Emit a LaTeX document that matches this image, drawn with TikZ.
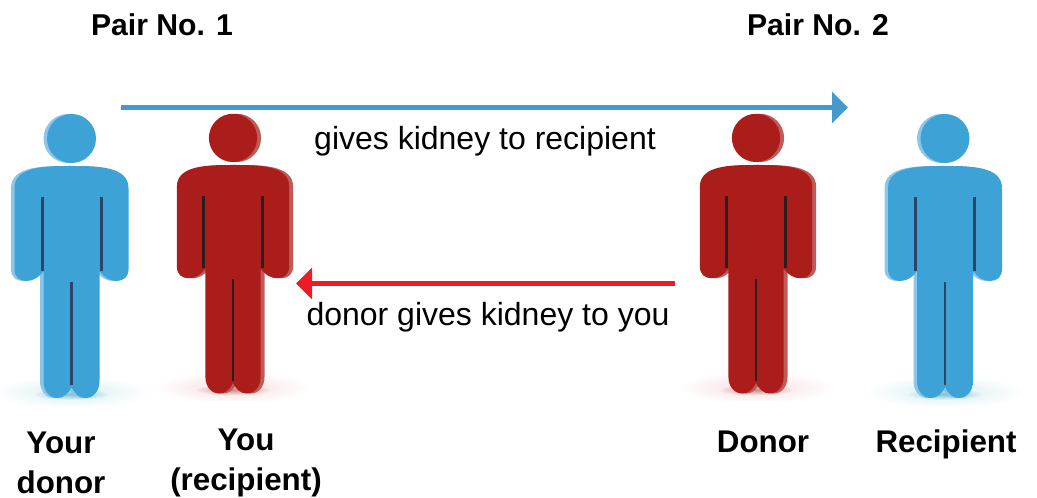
\documentclass[tikz,border=0pt]{standalone}
\usepackage{xcolor}
\usepackage{fontspec}
\setmainfont{Liberation Sans}
\usepackage{tikz}
\usetikzlibrary{arrows.meta,positioning}

\definecolor{donorblue}{HTML}{3DA2D5}
\definecolor{donorshade}{HTML}{8CC6EA}
\definecolor{donorslit}{HTML}{2B4468}
\definecolor{donorglow}{HTML}{D8EEF4}
\definecolor{donorfloor}{HTML}{7FBFD2}
\definecolor{patientred}{HTML}{AB1D1B}
\definecolor{patientshade}{HTML}{BE5A58}
\definecolor{patientslit}{HTML}{2E1B1C}
\definecolor{patientglow}{HTML}{F7DDDD}
\definecolor{patientfloor}{HTML}{C98A8A}
\definecolor{arrowblue}{HTML}{4499CF}
\definecolor{arrowred}{HTML}{ED1C24}

% outline of a standing figure, body top at y=0
\newcommand{\figureoutline}{
    (0,0) .. controls (25,0) and (57,0) .. (57,22) -- (57,103)
    .. controls (57,111) and (52,115) .. (45,115) .. controls (38,115) and (32,111) .. (28,105)
    -- (28,215) .. controls (28,225) and (22,232) .. (14,232) .. controls (8,232) and (3,228) .. (0,221)
    .. controls (-3,228) and (-8,232) .. (-14,232) .. controls (-22,232) and (-28,225) .. (-28,215)
    -- (-28,105) .. controls (-32,111) and (-38,115) .. (-45,115) .. controls (-52,115) and (-57,111) .. (-57,103)
    -- (-57,22) .. controls (-57,0) and (-25,0) .. (0,0) -- cycle
}

\begin{document}
\begin{tikzpicture}[
    x=0.75pt, y=-0.75pt,
    pairlabel/.style={font=\fontsize{22.6}{30}\selectfont\bfseries, inner sep=0pt, align=center},
    arrowlabel/.style={font=\fontsize{24}{30}\selectfont, inner sep=0pt},
    person/.style={font=\fontsize{23.5}{30}\selectfont\bfseries, inner sep=0pt, align=center},
    pics/figure/.style n args={6}{code={
        % ground glow
        \begin{scope}
            \clip (-85,190) rectangle (85,239.5);
            \shade[inner color=#4, outer color=white] (0,226) ellipse (80 and 16);
            \shade[inner color=#5, outer color=#4!40] (0,228) ellipse (40 and 6);
        \end{scope}
        % side face
        \fill[#2, shift={(#6,0)}] \figureoutline;
        \fill[#2, shift={(#6,0)}] (0,-27.5) circle (24.5);
        % front face
        \fill[#1] \figureoutline;
        \fill[#1] (0,-27.5) circle (24.5);
        % slits
        \fill[#3] (-31,31) rectangle (-28,105);
        \fill[#3] (28,31) rectangle (31,105);
        \fill[#3] (-1.3,116) rectangle (1.3,219);
    }}
]

\useasboundingbox (0,0) rectangle (1037,498);

% Figures
\pic (yourdonor) at (71.5,166) {figure={donorblue}{donorshade}{donorslit}{donorglow}{donorfloor}{-3.5}};
\pic[scale=0.985] (you) at (233,165) {figure={patientred}{patientshade}{patientslit}{patientglow}{patientfloor}{4}};
\pic[scale=0.985] (donor) at (756,165) {figure={patientred}{patientshade}{patientslit}{patientglow}{patientfloor}{4}};
\pic (recipient) at (945,166) {figure={donorblue}{donorshade}{donorslit}{donorglow}{donorfloor}{-3.5}};

% Headings
\node[pairlabel] (pairone) at (162,25) {Pair No. 1};
\node[pairlabel] (pairtwo) at (818,25) {Pair No. 2};

% Names under the figures
\node[person] (yourdonorlabel) at (61,462.5) {Your\\donor};
\node[person] (youlabel) at (246,462.5) {You\\(recipient)};
\node[person] (donorlabel) at (763,442) {Donor};
\node[person] (recipientlabel) at (946,444) {Recipient};

% Arrow ends
\coordinate (bluestart) at (121,107.5);
\coordinate (blueend) at (848,107.5);
\coordinate (redstart) at (675,283.5);
\coordinate (redend) at (296,283.5);

% Arrows
\draw[-{Triangle[length=12pt,width=23pt]}, arrowblue, line width=3.8pt] (bluestart) -- (blueend);
\draw[-{Triangle[length=12pt,width=23pt]}, arrowred, line width=3.8pt] (redstart) -- (redend);

% Arrow labels
\node[arrowlabel] (giveslabel) at (485,141) {gives kidney to recipient};
\node[arrowlabel] (receiveslabel) at (488,317) {donor gives kidney to you};

\end{tikzpicture}
\end{document}
